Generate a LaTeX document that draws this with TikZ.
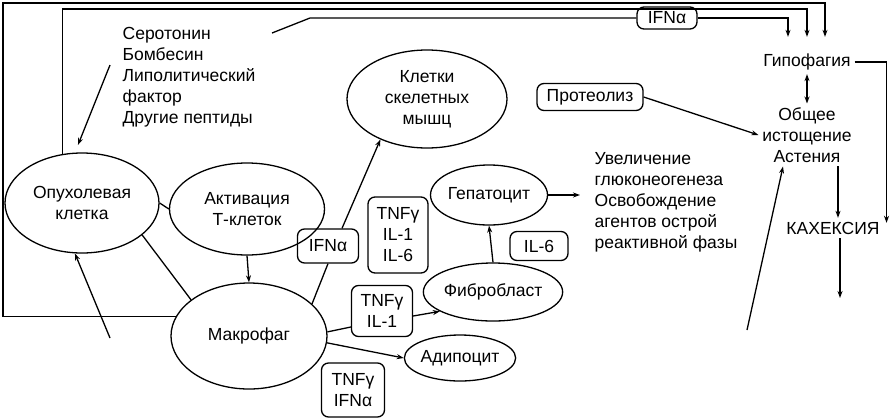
\documentclass[tikz,border=0pt]{standalone}
\usepackage{fontspec}
\setmainfont{Liberation Sans}
\usetikzlibrary{shapes.geometric,arrows.meta}

\begin{document}
\begin{tikzpicture}[x=1pt, y=-1pt, line width=1.3pt,
		every node/.style={font=\fontsize{17.5}{21}\selectfont},
		cell/.style={ellipse, draw, inner sep=0pt, align=center},
		agent/.style={draw, rounded corners=7pt, align=center, inner sep=0pt},
		arr/.style={-{Stealth[length=7pt,width=5pt]}},
		arrboth/.style={{Stealth[length=7pt,width=5pt]}-{Stealth[length=7pt,width=5pt]}}]
		\useasboundingbox (0,0) rectangle (893,418);
		% cells
		\node[cell, minimum width=154pt, minimum height=100pt] (tumor) at (82,203) {Опухолевая\\клетка};
		\node[cell, minimum width=155pt, minimum height=92pt] (tcell) at (247,209) {Активация\\Т-клеток};
		\node[cell, minimum width=156pt, minimum height=106pt] (macro) at (249,336) {Макрофаг};
		\node[cell, minimum width=160pt, minimum height=98pt] (muscle) at (427,99) {Клетки\\скелетных\\мышц};
		\node[cell, minimum width=117pt, minimum height=60pt] (hepat) at (489,195) {Гепатоцит};
		\node[cell, minimum width=126pt, minimum height=58pt] (fibro) at (493,292) {Фибробласт};
		\node[cell, minimum width=110pt, minimum height=46pt] (adipo) at (460,358) {Адипоцит};
		% mediators
		\node[agent, minimum width=60pt, minimum height=22pt] (ifnTop) at (667,18) {IFNα};
		\node[agent, minimum width=61pt, minimum height=34pt] (ifnMid) at (328,246) {IFNα};
		\node[agent, minimum width=60pt, minimum height=76pt] (cytA) at (398,235) {TNFγ\\IL-1\\IL-6};
		\node[agent, minimum width=58pt, minimum height=29pt] (ilSix) at (539,246) {IL-6};
		\node[agent, minimum width=61pt, minimum height=51pt] (cytB) at (382,311) {TNFγ\\IL-1};
		\node[agent, minimum width=63pt, minimum height=54pt] (cytC) at (353,390) {TNFγ\\IFNα};
		\node[agent, minimum width=106pt, minimum height=27pt] (prot) at (590,97) {Протеолиз};
		% texts
		\node[anchor=north west, align=left, inner sep=0pt] (peptides) at (122,27) {Серотонин\\Бомбесин\\Липолитический\\фактор\\Другие пептиды};
		\node[anchor=north west, align=left, inner sep=0pt] (liver) at (594,152) {Увеличение\\глюконеогенеза\\Освобождение\\агентов острой\\реактивной фазы};
		\node (hypo) at (807,62) {Гипофагия};
		\node[align=center] (exhaust) at (807,135) {Общее\\истощение\\Астения};
		\node (cachexia) at (833,228) {КАХЕКСИЯ};
		\coordinate (tumorIn) at (110,338);
		\coordinate (exhaustIn) at (747,330);
		\coordinate (cachexOut) at (840,298);
		% connectors
		\draw (tumor.east) -- (tcell.west);
		\draw (tumor.-28) -- (macro.148);
		\draw[arr] (tcell.south) -- (macro.north);
		\draw[arr] (tumorIn) -- (tumor.-98);
		\draw (macro.27) -- (ifnMid.south);
		\draw[arr] ([xshift=14pt]ifnMid.north) -- (muscle.221);
		\draw (macro.3) -- ([yshift=-16pt]cytB.west);
		\draw[arr] ([yshift=-5pt]cytB.east) -- (fibro.200);
		\draw[arr] (macro.-5) -- (adipo.west);
		\draw[arr] (fibro.north) -- (hepat.south);
		\draw[arr, shorten >=14pt] (hepat.east) -- (hepat.east -| liver.west);
		\draw[arr, shorten >=8pt] ([shift={(-12pt,-38pt)}]peptides.north west) -- ([xshift=-7pt]tumor.north);
		% lines to the top
		\draw ([shift={(150pt,-6pt)}]peptides.north west) -- ++(38,-15) -- (ifnTop.west);
		\draw[arr, shorten >=13pt] (ifnTop.east) -| ([xshift=-19pt]hypo.north);
		\draw[arr, shorten >=13pt] (tumor.112) -- (tumor.112 |- 0,9) -| (hypo.north);
		\draw[arr, shorten >=13pt] (macro.165) -| (3,3) -| ([xshift=18pt]hypo.north);
		% right side
		\draw[arr] (prot.east) -- (exhaust.west);
		\draw[arrboth] (hypo.south) -- (exhaust.north);
		\draw[arr] (hypo.east) -| ([shift={(3pt,-5pt)}]cachexia.north east);
		\draw[arr] ([xshift=31pt]exhaust.south) -- ([xshift=31pt]exhaust.south |- cachexia.north);
		\draw[arr] (cachexia.south -| cachexOut) -- (cachexOut);
		\draw[arr] (exhaustIn) -- ([xshift=-24pt]exhaust.south);
\end{tikzpicture}
\end{document}
